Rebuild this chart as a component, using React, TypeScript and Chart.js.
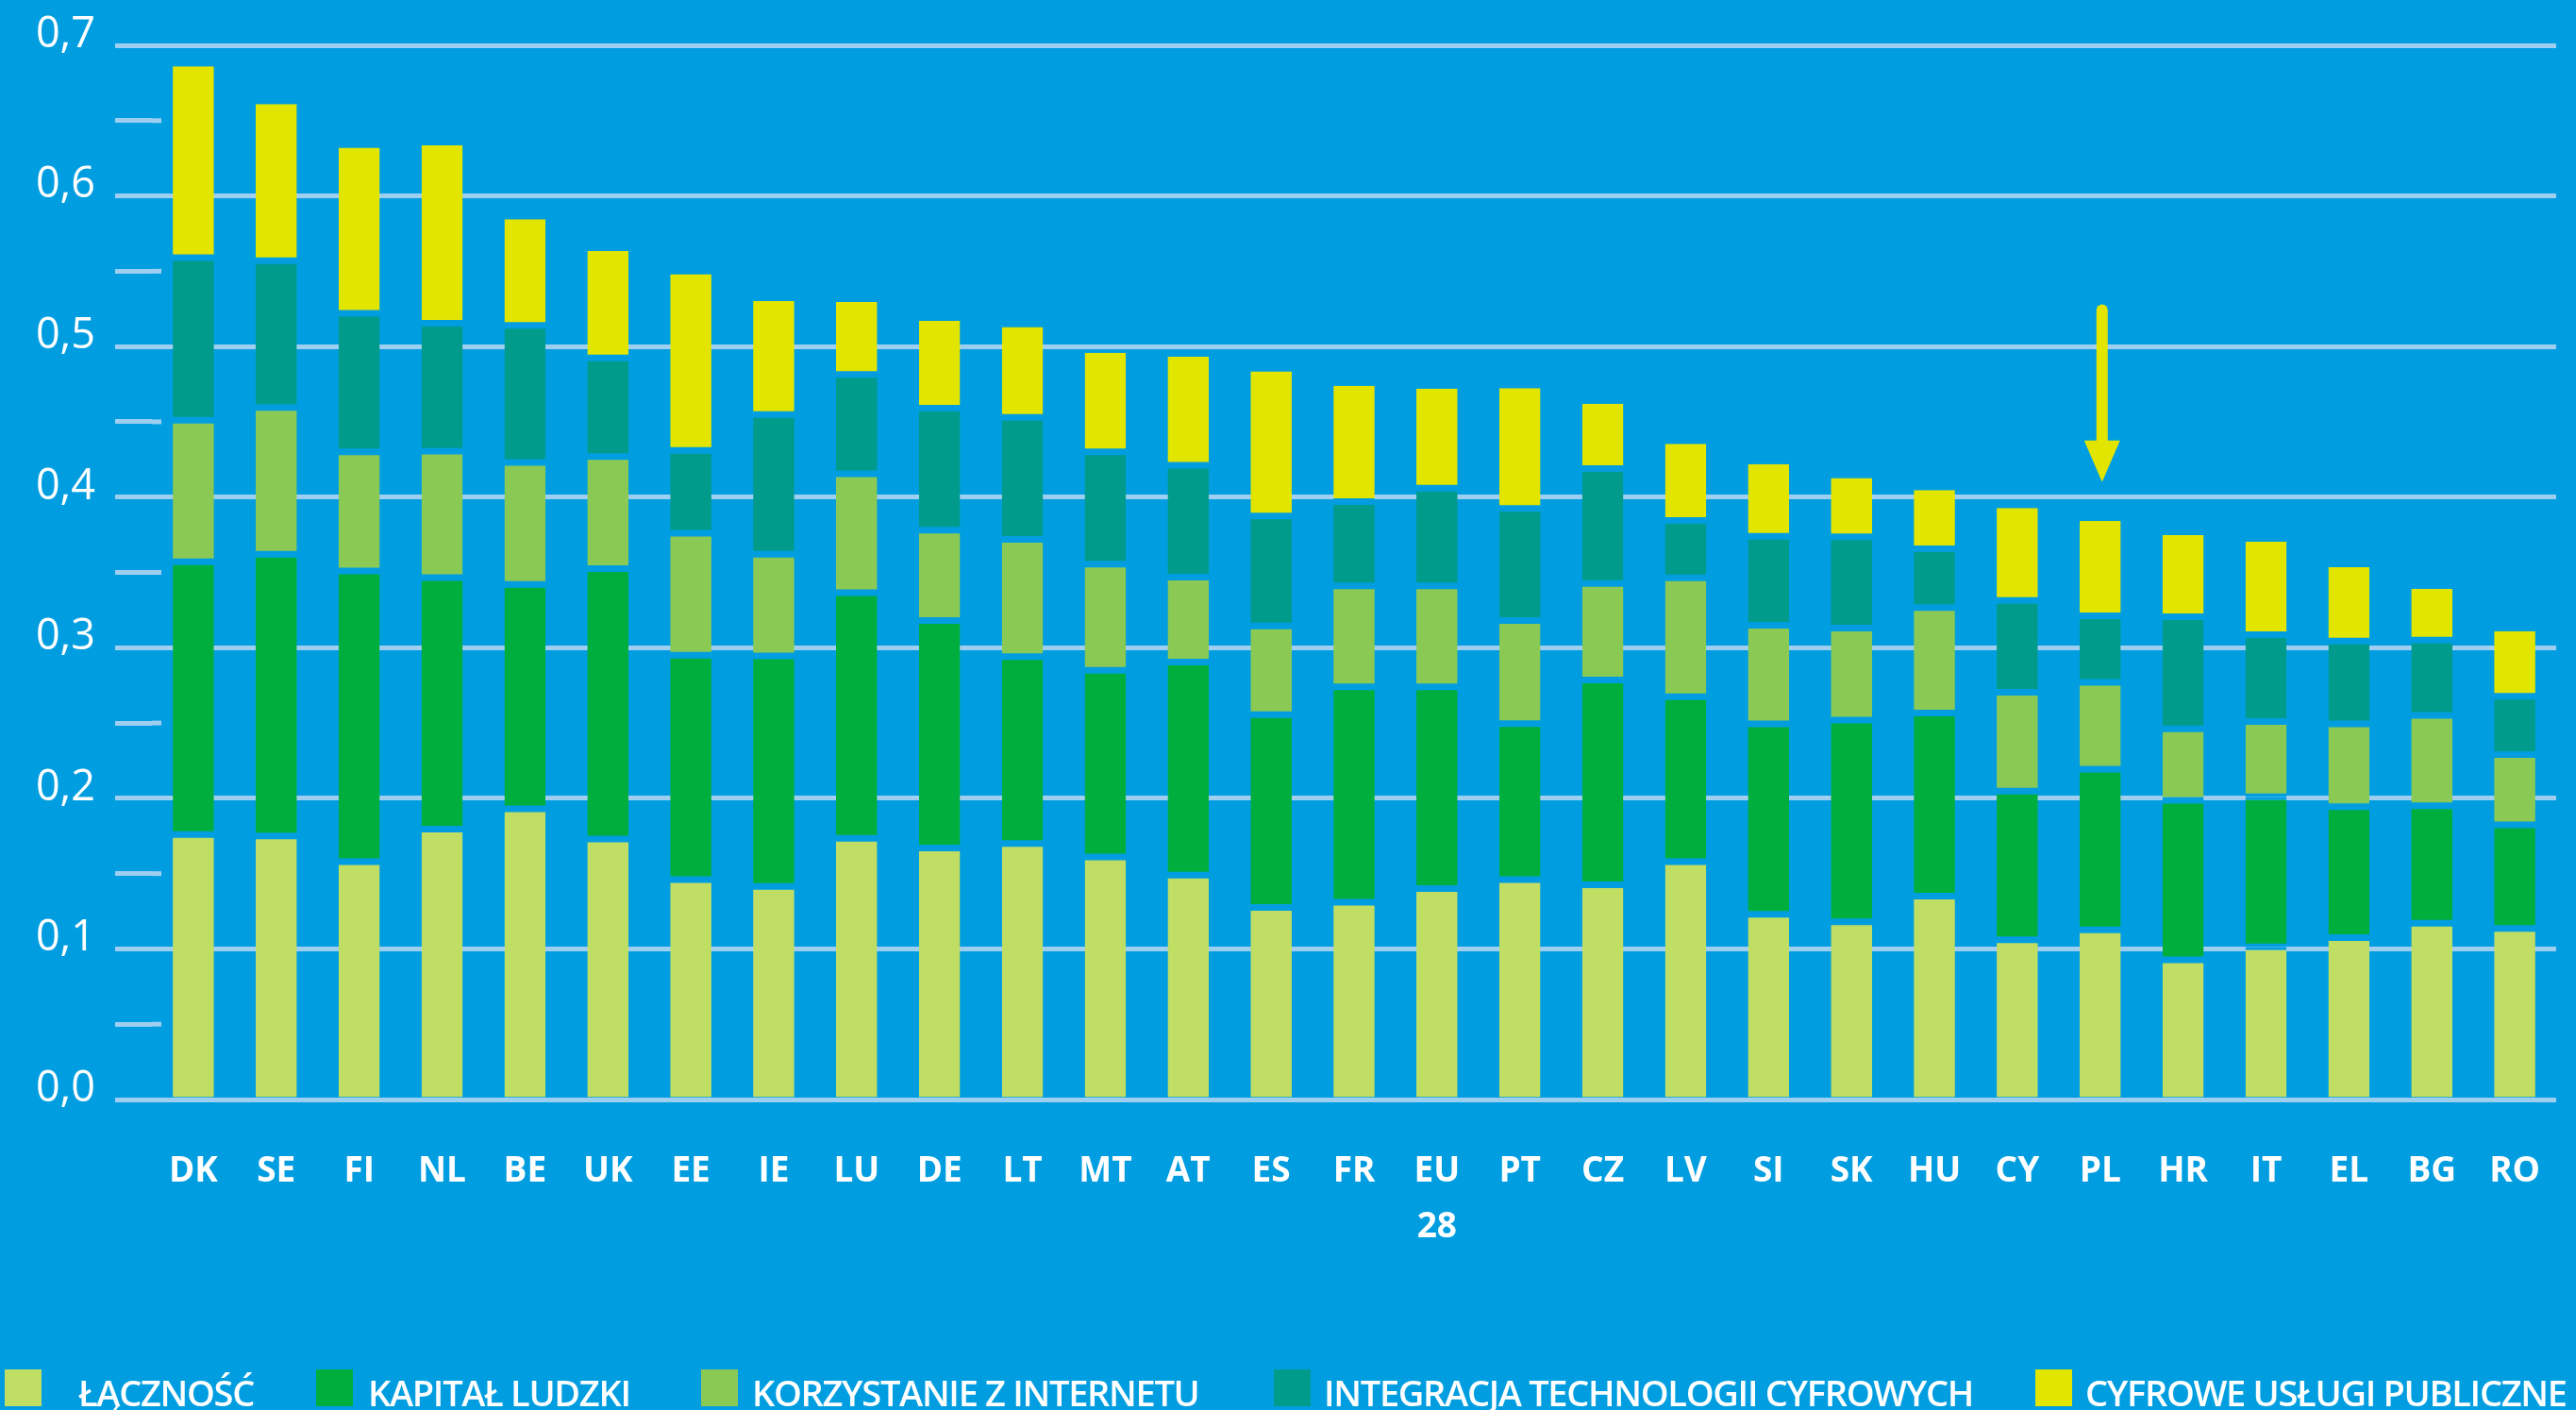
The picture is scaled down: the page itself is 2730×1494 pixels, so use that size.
import React, { useEffect, useRef } from 'react';
import { Chart, registerables } from 'chart.js';

Chart.register(...registerables);

// ---- data ----
const CATEGORIES = ['DK', 'SE', 'FI', 'NL', 'BE', 'UK', 'EE', 'IE', 'LU', 'DE', 'LT', 'MT', 'AT', 'ES', 'FR', 'EU 28', 'PT', 'CZ', 'LV', 'SI', 'SK', 'HU', 'CY', 'PL', 'HR', 'IT', 'EL', 'BG', 'RO'];

const LACZNOSC = [0.176, 0.175, 0.158, 0.1795, 0.193, 0.173, 0.146, 0.1415, 0.1735, 0.167, 0.170, 0.161, 0.149, 0.1275, 0.131, 0.140, 0.146, 0.1426, 0.158, 0.123, 0.118, 0.135, 0.106, 0.1126, 0.0927, 0.1014, 0.1074, 0.117, 0.1136];
const KAPITAL_LUDZKI = [0.181, 0.187, 0.193, 0.167, 0.149, 0.1795, 0.149, 0.153, 0.163, 0.151, 0.124, 0.124, 0.1415, 0.128, 0.143, 0.134, 0.1035, 0.136, 0.1094, 0.1264, 0.134, 0.1216, 0.0987, 0.1067, 0.106, 0.0996, 0.087, 0.078, 0.0687];
const KORZYSTANIE = [0.094, 0.0975, 0.079, 0.084, 0.081, 0.0744, 0.081, 0.0676, 0.079, 0.060, 0.078, 0.0705, 0.0563, 0.059, 0.067, 0.067, 0.0685, 0.064, 0.079, 0.0655, 0.061, 0.070, 0.0657, 0.0577, 0.0474, 0.050, 0.055, 0.060, 0.0467];
const INTEGRACJA = [0.108, 0.0975, 0.092, 0.085, 0.091, 0.0655, 0.055, 0.0927, 0.066, 0.081, 0.081, 0.0746, 0.0744, 0.073, 0.056, 0.065, 0.0744, 0.0764, 0.038, 0.059, 0.0606, 0.039, 0.061, 0.0442, 0.0744, 0.0577, 0.055, 0.050, 0.0387];
const CYFROWE_USLUGI = [0.127, 0.104, 0.110, 0.118, 0.0705, 0.071, 0.117, 0.0753, 0.048, 0.058, 0.060, 0.0657, 0.072, 0.096, 0.077, 0.066, 0.080, 0.043, 0.051, 0.048, 0.039, 0.039, 0.0614, 0.063, 0.0543, 0.0616, 0.049, 0.034, 0.0433];

const SERIES_NAMES = ['ŁĄCZNOŚĆ', 'KAPITAŁ LUDZKI', 'KORZYSTANIE Z INTERNETU', 'INTEGRACJA TECHNOLOGII CYFROWYCH', 'CYFROWE USŁUGI PUBLICZNE'];
const SERIES_VALUES = [LACZNOSC, KAPITAL_LUDZKI, KORZYSTANIE, INTEGRACJA, CYFROWE_USLUGI];

const Y_MIN = 0;
const Y_MAX = 0.7;
const Y_STEP = 0.05;

const ARROW_CATEGORY = 'PL';
const ARROW_FROM = 0.528;
const ARROW_TO = 0.41;

// ---- styles ----
const BG = '#009EE0';
const GRID = '#9ECFF1';
const COLORS = ['#C0DD64', '#00AE3E', '#8BC955', '#009B8A', '#E1E500'];
const LEGEND_BOX_X = [5, 335, 743, 1350, 2157];
const LEGEND_TEXT_X = [83, 390, 797, 1403, 2210];
const FONT = '"Open Sans", "Noto Sans", sans-serif';

const isMinor = (v: number) => Math.round(v * 100) % 10 !== 0;

const minorTickPlugin = {
  id: 'minorTickExt',
  beforeDatasetsDraw(chart: any) {
    const { ctx, chartArea, scales } = chart;
    const y = scales.y;
    ctx.save();
    ctx.strokeStyle = GRID;
    ctx.lineWidth = 5;
    y.ticks.forEach((t: any) => {
      if (!isMinor(t.value)) return;
      const py = y.getPixelForValue(t.value);
      ctx.beginPath();
      ctx.moveTo(chartArea.left, py);
      ctx.lineTo(chartArea.left + 10, py);
      ctx.stroke();
    });
    ctx.restore();
  },
};

const arrowPlugin = {
  id: 'arrowMark',
  afterDatasetsDraw(chart: any) {
    const { ctx, scales } = chart;
    const idx = CATEGORIES.indexOf(ARROW_CATEGORY);
    const x = scales.x.getPixelForValue(idx) + 2;
    const yTop = scales.y.getPixelForValue(ARROW_FROM);
    const yTip = scales.y.getPixelForValue(ARROW_TO);
    const headH = 44;
    const headW = 38;
    ctx.save();
    ctx.strokeStyle = COLORS[4];
    ctx.fillStyle = COLORS[4];
    ctx.lineWidth = 12;
    ctx.lineCap = 'round';
    ctx.beginPath();
    ctx.moveTo(x, yTop + 6);
    ctx.lineTo(x, yTip - headH + 2);
    ctx.stroke();
    ctx.beginPath();
    ctx.moveTo(x - headW / 2, yTip - headH);
    ctx.lineTo(x + headW / 2, yTip - headH);
    ctx.lineTo(x, yTip);
    ctx.closePath();
    ctx.fill();
    ctx.restore();
  },
};

export default function App() {
  const canvasRef = useRef<HTMLCanvasElement | null>(null);

  useEffect(() => {
    if (!canvasRef.current) return;
    const n = SERIES_VALUES.length;
    const datasets = SERIES_VALUES.map((vals, i) => ({
      label: SERIES_NAMES[i],
      data: vals,
      backgroundColor: COLORS[i],
      borderColor: BG,
      borderWidth: {
        top: i === n - 1 ? 0 : 3.5,
        bottom: i === 0 ? 0 : 3.5,
        left: 0,
        right: 0,
      },
      borderSkipped: false,
      categoryPercentage: 1,
      barPercentage: 0.497,
    }));

    const chart = new Chart(canvasRef.current, {
      type: 'bar',
      data: {
        labels: CATEGORIES.map((c) => c.split(' ')),
        datasets,
      },
      options: {
        animation: false,
        responsive: false,
        devicePixelRatio: 1,
        layout: { padding: { top: 47, left: 0, right: 0, bottom: 0 } },
        plugins: {
          legend: { display: false },
          tooltip: { enabled: false },
        },
        scales: {
          x: {
            stacked: true,
            grid: { display: false },
            border: { display: false },
            ticks: {
              color: '#FFFFFF',
              font: { family: FONT, size: 37, weight: '700', lineHeight: 1.62 },
              padding: 38,
              maxRotation: 0,
              autoSkip: false,
            },
            afterFit(scale: any) {
              scale.height = 329;
            },
          },
          y: {
            stacked: true,
            min: Y_MIN,
            max: Y_MAX,
            border: { display: false },
            grid: {
              color: (c: any) => (c.tick && isMinor(c.tick.value) ? 'rgba(0,0,0,0)' : GRID),
              tickColor: GRID,
              lineWidth: 5,
              tickLength: 39,
              drawTicks: true,
            },
            ticks: {
              stepSize: Y_STEP,
              color: '#FFFFFF',
              font: { family: FONT, size: 45, weight: '400' },
              padding: 21,
              labelOffset: -11,
              autoSkip: false,
              callback: (v: any) => (isMinor(Number(v)) ? '' : Number(v).toFixed(1).replace('.', ',')),
            },
            afterFit(scale: any) {
              scale.width = 161;
            },
          },
        },
      },
      plugins: [minorTickPlugin, arrowPlugin],
    });
    return () => chart.destroy();
  }, []);

  return (
    <div style={{ position: 'fixed', left: 0, top: 0, width: 2730, height: 1494, background: BG, overflow: 'hidden' }}>
      <canvas ref={canvasRef} width={2730} height={1494} style={{ display: 'block', width: 2730, height: 1494 }} />
      {SERIES_NAMES.map((name, i) => (
        <React.Fragment key={name}>
          <div style={{ position: 'absolute', left: LEGEND_BOX_X[i], top: 1451, width: 39, height: 39, background: COLORS[i] }} />
          <span
            style={{
              position: 'absolute',
              left: LEGEND_TEXT_X[i],
              top: 1456,
              fontFamily: FONT,
              fontWeight: 600,
              fontSize: 38,
              lineHeight: '38px',
              letterSpacing: '-1.3px',
              color: '#FFFFFF',
              whiteSpace: 'nowrap',
            }}
          >
            {name}
          </span>
        </React.Fragment>
      ))}
    </div>
  );
}
